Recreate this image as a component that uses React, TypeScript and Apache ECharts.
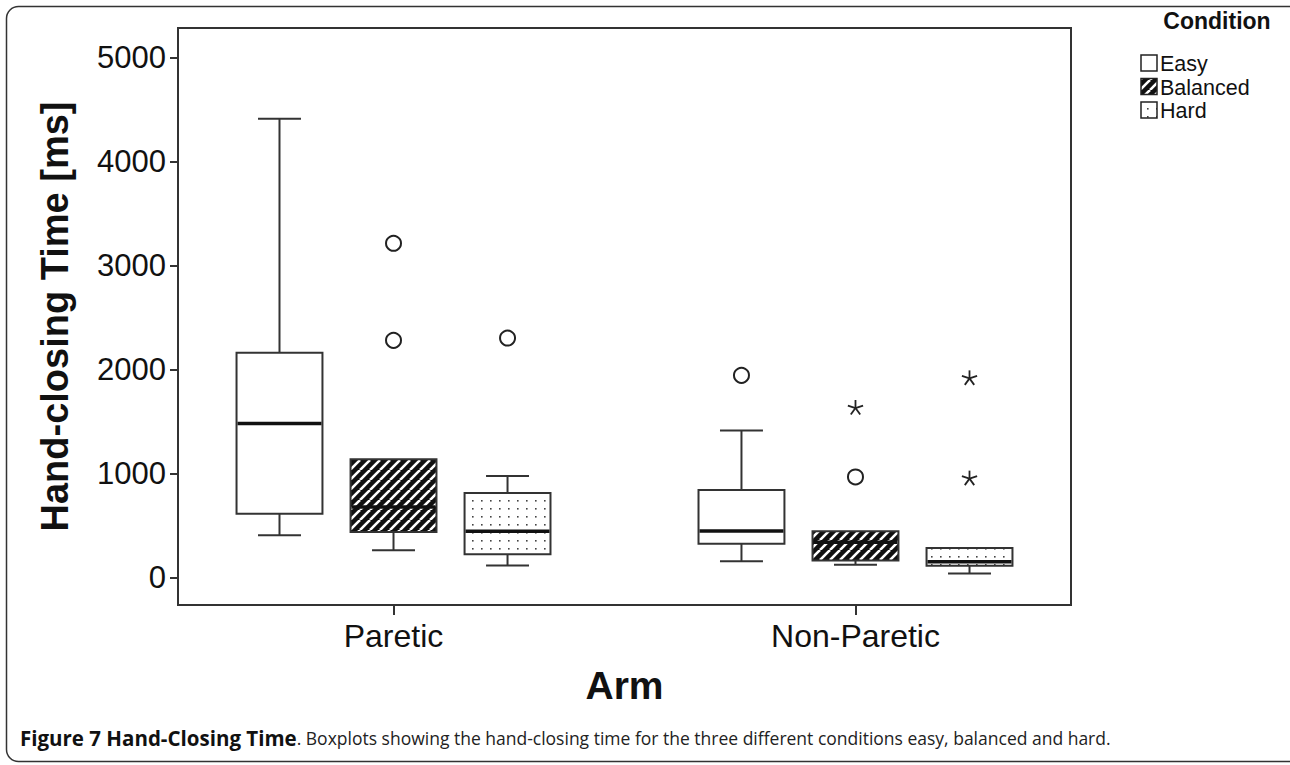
import React, { useEffect, useRef } from 'react';
import * as echarts from 'echarts';

const arms = ['Paretic', 'Non-Paretic'];
const conditions = ['Easy', 'Balanced', 'Hard'];
const yTicks = [0, 1000, 2000, 3000, 4000, 5000];

// [lower whisker, Q1, median, Q3, upper whisker] for each arm
const easyStats = [[404, 612, 1478, 2160, 4410], [154, 324, 446, 840, 1413]];
const balancedStats = [[260, 436, 676, 1135, 1135], [122, 163, 337, 442, 442]];
const hardStats = [[115, 221, 442, 811, 974], [36, 112, 150, 282, 282]];

// outliers (circles) for each arm
const easyOutliers = [[], [1942]];
const balancedOutliers = [[2279, 3212], [965]];
const hardOutliers = [[2301], []];

// extremes (stars) for each arm
const easyExtremes = [[], []];
const balancedExtremes = [[], [1628]];
const hardExtremes = [[], [949, 1913]];

const FONT = 'Liberation Sans, Arial, sans-serif';

function makeHatch() {
  const s = 10;
  const c = document.createElement('canvas');
  c.width = s; c.height = s;
  const ctx = c.getContext('2d')!;
  ctx.fillStyle = '#111';
  ctx.fillRect(0, 0, s, s);
  ctx.strokeStyle = '#fff';
  ctx.lineWidth = 2.6;
  for (const o of [-s, 0, s]) {
    ctx.beginPath();
    ctx.moveTo(o, s);
    ctx.lineTo(o + s, 0);
    ctx.stroke();
  }
  return { image: c, repeat: 'repeat', imageWidth: s, imageHeight: s };
}

function makeDots() {
  const w = 9, h = 8;
  const c = document.createElement('canvas');
  c.width = w; c.height = h;
  const ctx = c.getContext('2d')!;
  ctx.fillStyle = '#fff';
  ctx.fillRect(0, 0, w, h);
  ctx.fillStyle = '#444';
  ctx.fillRect(4, 4, 1.6, 1.6);
  return { image: c, repeat: 'repeat', imageWidth: w, imageHeight: h };
}

const OFFSET = 0.2468;
const BOXW = 0.186;

export default function App() {
  const ref = useRef<HTMLDivElement>(null);
  useEffect(() => {
    if (!ref.current) return;
    const chart = echarts.init(ref.current, null, { renderer: 'svg' });
    const fills: any[] = ['#fff', makeHatch(), makeDots()];
    const statsList = [easyStats, balancedStats, hardStats];
    const outList = [easyOutliers, balancedOutliers, hardOutliers];
    const extList = [easyExtremes, balancedExtremes, hardExtremes];

    const boxSeries = statsList.map((stats, ci) => ({
      type: 'custom',
      name: conditions[ci],
      data: stats.map((s, ai) => [ai, ...s]),
      encode: { x: 0, y: [1, 2, 3, 4, 5] },
      renderItem: (params: any, api: any) => {
        const a = api.value(0);
        const unit = api.coord([1, 0])[0] - api.coord([0, 0])[0];
        const cx = api.coord([a, 0])[0] + (ci - 1) * unit * OFFSET;
        const w = unit * BOXW;
        const y = (v: number) => api.coord([a, v])[1];
        const lo = y(api.value(1));
        const q1 = y(api.value(2));
        const md = y(api.value(3));
        const q3 = y(api.value(4));
        const hi = y(api.value(5));
        const ls = { stroke: '#333', lineWidth: 2 };
        const children: any[] = [];
        if (hi < q3 - 0.5) {
          children.push({ type: 'line', shape: { x1: cx, y1: q3, x2: cx, y2: hi }, style: ls });
          children.push({ type: 'line', shape: { x1: cx - w / 4, y1: hi, x2: cx + w / 4, y2: hi }, style: ls });
        }
        if (lo > q1 + 0.5) {
          children.push({ type: 'line', shape: { x1: cx, y1: q1, x2: cx, y2: lo }, style: ls });
          children.push({ type: 'line', shape: { x1: cx - w / 4, y1: lo, x2: cx + w / 4, y2: lo }, style: ls });
        }
        children.push({
          type: 'rect',
          shape: { x: cx - w / 2, y: q3, width: w, height: q1 - q3 },
          style: { fill: fills[ci], stroke: '#333', lineWidth: 2 },
        });
        children.push({
          type: 'line',
          shape: { x1: cx - w / 2 + 1, y1: md, x2: cx + w / 2 - 1, y2: md },
          style: { stroke: '#111', lineWidth: 3.5 },
        });
        return { type: 'group', children };
      },
    }));

    const pointData: number[][] = [];
    for (let ci = 0; ci < 3; ci++) {
      for (let ai = 0; ai < 2; ai++) {
        outList[ci][ai].forEach((v: number) => pointData.push([ai, v, ci, 0]));
        extList[ci][ai].forEach((v: number) => pointData.push([ai, v, ci, 1]));
      }
    }

    const pointSeries = {
      type: 'custom',
      name: 'points',
      data: pointData,
      encode: { x: 0, y: 1 },
      renderItem: (params: any, api: any) => {
        const a = api.value(0);
        const ci = api.value(2);
        const unit = api.coord([1, 0])[0] - api.coord([0, 0])[0];
        const p = api.coord([a, api.value(1)]);
        const cx = p[0] + (ci - 1) * unit * OFFSET;
        const cy = p[1];
        if (api.value(3) === 0) {
          return {
            type: 'circle',
            shape: { cx, cy, r: 7.5 },
            style: { fill: '#fff', stroke: '#222', lineWidth: 2 },
          };
        }
        const r = 8;
        const children: any[] = [];
        for (let k = 0; k < 5; k++) {
          const ang = (-90 + k * 72) * Math.PI / 180;
          children.push({
            type: 'line',
            shape: { x1: cx, y1: cy, x2: cx + r * Math.cos(ang), y2: cy + r * Math.sin(ang) },
            style: { stroke: '#222', lineWidth: 1.8 },
          });
        }
        return { type: 'group', children };
      },
    };

    const legendItems: any[] = [];
    const lx = 1141;
    conditions.forEach((c, i) => {
      const cy = 63 + i * 23.5;
      legendItems.push({
        type: 'rect',
        shape: { x: lx, y: cy - 8, width: 16, height: 16 },
        style: { fill: fills[i], stroke: '#222', lineWidth: 1.5 },
      });
      legendItems.push({
        type: 'text',
        x: lx + 19,
        y: cy + 1,
        style: {
          text: c, font: `21.5px ${FONT}`, lineHeight: 21, fill: '#111',
          textVerticalAlign: 'middle', verticalAlign: 'middle',
        },
      });
    });

    chart.setOption({
      animation: false,
      grid: {
        left: 178, right: 1290 - 1071, top: 28, bottom: 765 - 605,
        show: true, borderColor: '#333', borderWidth: 2, backgroundColor: 'transparent',
      },
      xAxis: {
        type: 'value',
        min: -0.4665,
        max: 1.4665,
        splitLine: { show: false },
        axisLine: { show: true, onZero: false, lineStyle: { color: '#333', width: 2 } },
        axisTick: { show: true, customValues: [0, 1], length: 10, lineStyle: { color: '#333', width: 2 } },
        axisLabel: {
          customValues: [0, 1],
          formatter: (v: number) => arms[Math.round(v)],
          fontSize: 32, color: '#111', fontFamily: FONT, margin: 15,
        },
        name: 'Arm',
        nameLocation: 'middle',
        nameGap: 61,
        nameTextStyle: { fontSize: 39, fontWeight: 'bold', color: '#111', fontFamily: FONT },
      },
      yAxis: {
        type: 'value',
        min: -266,
        max: 5282,
        splitLine: { show: false },
        axisLine: { show: true, onZero: false, lineStyle: { color: '#333', width: 2 } },
        axisTick: { show: true, customValues: yTicks, length: 8, lineStyle: { color: '#333', width: 2 } },
        axisLabel: {
          customValues: yTicks,
          formatter: (v: number) => String(v),
          fontSize: 31, color: '#111', fontFamily: FONT, margin: 12,
        },
        name: 'Hand-closing Time [ms]',
        nameLocation: 'middle',
        nameGap: 104,
        nameTextStyle: { fontSize: 38, fontWeight: 'bold', color: '#111', fontFamily: FONT },
      },
      graphic: [
        {
          type: 'rect',
          shape: { x: 6.5, y: 6.5, width: 1295, height: 755, r: 12 },
          style: { fill: 'none', stroke: '#333', lineWidth: 1.5 },
          silent: true,
        },
        {
          type: 'text',
          x: 1217,
          y: 21,
          style: { text: 'Condition', font: `bold 23px ${FONT}`, fill: '#111', textAlign: 'center', align: 'center', textVerticalAlign: 'middle', verticalAlign: 'middle' },
        },
        ...legendItems,
        {
          type: 'text',
          x: 20,
          y: 738,
          style: {
            text: '{b|Figure 7 Hand-Closing Time}{r|. Boxplots showing the hand-closing time for the three different conditions easy, balanced and hard.}',
            verticalAlign: 'middle',
            rich: {
              b: { fontWeight: 'bold', fontSize: 20.5, fontFamily: 'Open Sans', fill: '#111' },
              r: { fontSize: 17.5, fontFamily: 'Open Sans', fill: '#222' },
            },
          },
        },
      ],
      series: [...boxSeries, pointSeries],
    });
    return () => chart.dispose();
  }, []);
  return <div ref={ref} style={{ position: 'absolute', left: 0, top: 0, width: 1290, height: 765, background: '#fff' }} />;
}
